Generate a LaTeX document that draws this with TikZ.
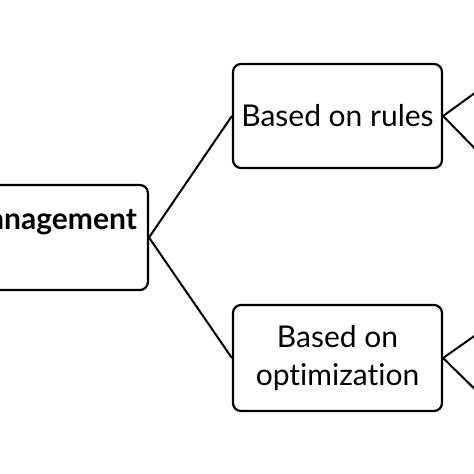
\documentclass[tikz,border=0pt]{standalone}
\usepackage{fontspec}
\setmainfont{Lato}[Ligatures={NoCommon}]
\usepackage{tikz}

\begin{document}
\begin{tikzpicture}[x=1pt, y=-1pt]
      % Define box style
      \def\linew{2.2pt}
      \tikzset{
        box/.style={draw, line width=\linew, rounded corners=8pt, align=center,
          font=\fontsize{30}{38}\selectfont, inner sep=0pt},
        link/.style={line width=2pt}
      }

      % Frame
      \useasboundingbox (0,0) rectangle (474,474);

      % Main box
      \node[box, anchor=east, inner xsep=11pt, text height=44pt, text depth=61pt,
        font=\fontsize{30}{36}\selectfont\bfseries] (M) at (149,237.5) {Energy management};

      % Method boxes
      \node[box, minimum width=209pt, minimum height=104pt] (R) at (337.5,116) {Based on rules};
      \node[box, minimum width=209pt, minimum height=106pt] (O) at (337.5,358) {Based on\\optimization};

      % Free ends on the right
      \coordinate (R1) at (490,82);
      \coordinate (R2) at (490,164);
      \coordinate (O1) at (490,325);
      \coordinate (O2) at (490,404);

      % Connecting lines
      \draw[link] (M.east) -- (R.west);
      \draw[link] (M.east) -- (O.west);
      \draw[link] (R.east) -- (R1);
      \draw[link] (R.east) -- (R2);
      \draw[link] (O.east) -- (O1);
      \draw[link] (O.east) -- (O2);

    \end{tikzpicture}
\end{document}
